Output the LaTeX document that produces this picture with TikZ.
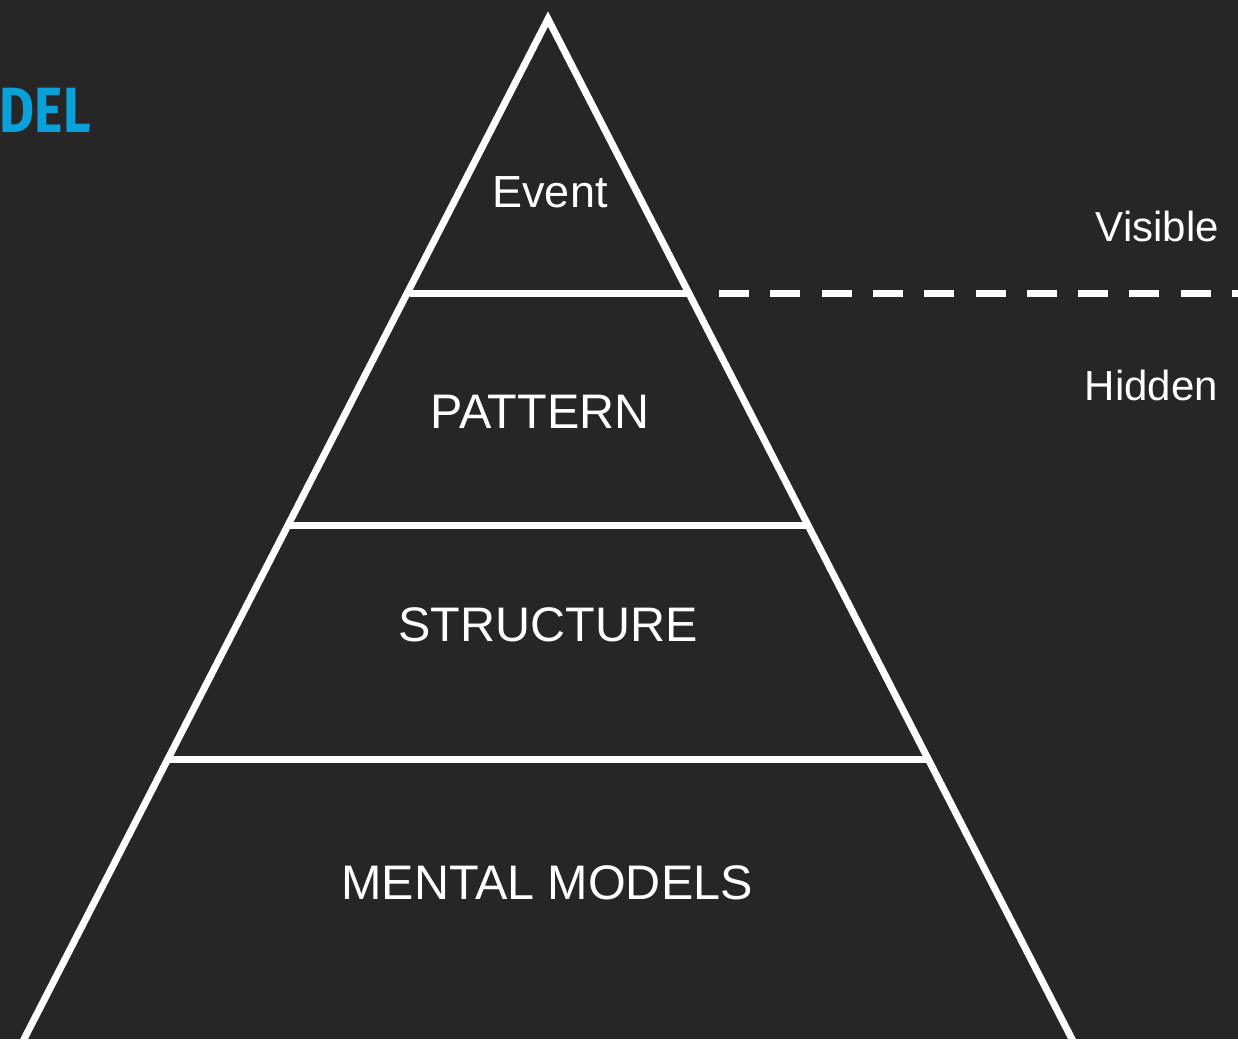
\documentclass[tikz,border=0pt]{standalone}
\usepackage{fontspec}
\setmainfont{Liberation Sans}
\newfontfamily\titlefont{Fira Sans}
\definecolor{bg}{HTML}{262626}
\definecolor{titleblue}{HTML}{0AA0DA}
\begin{document}
\begin{tikzpicture}[x=1pt,y=-1pt,
  outline/.style={draw=white,line width=7pt,line join=miter},
  layer/.style={text=white,font=\fontsize{48.5}{50}\selectfont,inner sep=0pt,anchor=base},
  side/.style={text=white,font=\fontsize{42}{45}\selectfont,inner sep=0pt,anchor=base east},
  divider/.style={draw=white,line width=7pt,dash pattern=on 30pt off 21.3pt}]
\fill[bg] (0,0) rectangle (1238,1039);
\useasboundingbox (0,0) rectangle (1238,1039);
\begin{scope}
\clip (0,0) rectangle (1238,1039);
% title fragment
\node[text=titleblue,font=\titlefont\bfseries\fontsize{64}{66}\selectfont,inner sep=0pt,anchor=base east,xscale=0.84] (title) at (91,132) {DEL};
% pyramid
\coordinate (apex) at (548,19);
\coordinate (bl) at (22,1043);
\coordinate (br) at (1074,1043);
\draw[outline] (apex) -- (br) -- (bl) -- cycle;
\coordinate (l1) at (410,293); \coordinate (r1) at (689,293);
\coordinate (l2) at (288,525); \coordinate (r2) at (808,525);
\coordinate (l3) at (167,759); \coordinate (r3) at (929,759);
\draw[outline] (l1) -- (r1);
\draw[outline] (l2) -- (r2);
\draw[outline] (l3) -- (r3);
\coordinate (d0) at (719,293);
\coordinate (d1) at (1260,293);
\draw[divider] (d0) -- (d1);
\node[layer,font=\fontsize{45}{48}\selectfont] (event) at (550,207) {Event};
\node[layer] (pattern) at (540,428) {PATTERN};
\node[layer] (structure) at (548,641) {STRUCTURE};
\node[layer] (mental) at (547,899) {MENTAL MODELS};
\node[side] (visible) at (1219,241) {Visible};
\node[side] (hidden) at (1218,400) {Hidden};
\end{scope}
\end{tikzpicture}
\end{document}
